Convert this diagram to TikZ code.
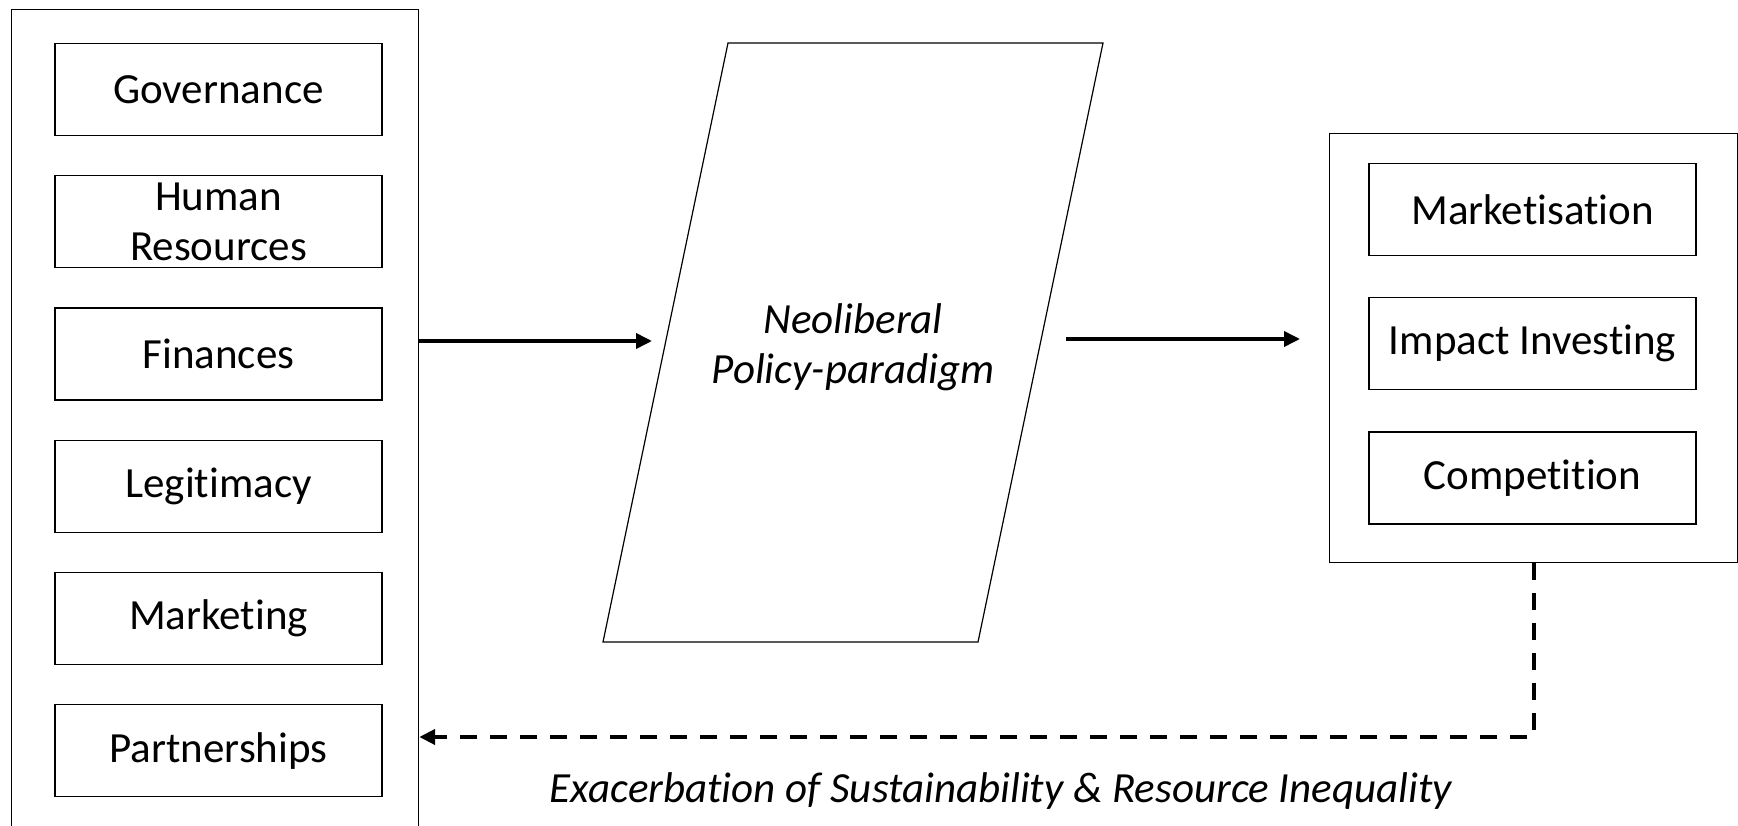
\documentclass[tikz,border=0pt]{standalone}
\usepackage{fontspec}
\setmainfont{Carlito}[RawFeature={-liga;-clig;-calt;-dlig}]
\usetikzlibrary{positioning}
\usetikzlibrary{arrows.meta}

\begin{document}
\begin{tikzpicture}[%
  x=1pt, y=-1pt,
  >={Triangle[length=16pt, width=15pt]},
  font=\fontsize{43}{50}\selectfont,
  frame/.style={draw, line width=1.2pt, inner sep=0pt},
  item/.style={draw, line width=1.2pt, minimum width=327pt,
    minimum height=92pt, inner sep=0pt, align=center},
  flow/.style={->, line width=3.6pt},
  feedback/.style={->, line width=4pt, dash pattern=on 17pt off 13pt},
  node distance=39pt,
]

  \useasboundingbox (0,0) rectangle (1738,826);

  % left frame runs off the bottom edge
  \node[frame, minimum width=407pt, minimum height=840pt,
    anchor=north west] (lframe) at (11,9) {};

  \node[item, anchor=north] (gov) at (218.5,43) {Governance};
  \node[item, below=of gov] (hr) {Human\\Resources};
  \node[item, below=of hr] (fin) {Finances};
  \node[item, below=of fin] (leg) {Legitimacy};
  \node[item, below=of leg] (mkg) {Marketing};
  \node[item, below=of mkg] (part) {Partnerships};

  % policy paradigm
  \draw[line width=1.2pt] (728,43) -- (1103,43) -- (978,642) -- (603,642) -- cycle;
  \node[align=center, font=\fontsize{43}{50}\selectfont\itshape]
    (policy) at (853,347.5) {Neoliberal\\Policy-paradigm};

  % right frame
  \node[frame, minimum width=408pt, minimum height=429pt,
    anchor=north west] (rframe) at (1329,133) {};

  \node[item, anchor=north] (mks) at (1532.5,163) {Marketisation};
  \node[item, below=41pt of mks] (imp) {Impact Investing};
  \node[item, below=41pt of imp] (comp) {Competition};

  \coordinate (pin) at (652,341);
  \coordinate (pout) at (1066,339);
  \draw[flow] (lframe.east |- pin) -- (pin);
  \draw[flow, shorten >=29pt] (pout) -- (rframe.west |- pout);

  \coordinate (turn) at (1533,737);
  \draw[feedback] (rframe.south) |- (lframe.east |- turn);

  \node[anchor=base, font=\fontsize{43}{50}\selectfont\itshape]
    (effect) at (1001,802) {Exacerbation of Sustainability \& Resource Inequality};

\end{tikzpicture}
\end{document}
